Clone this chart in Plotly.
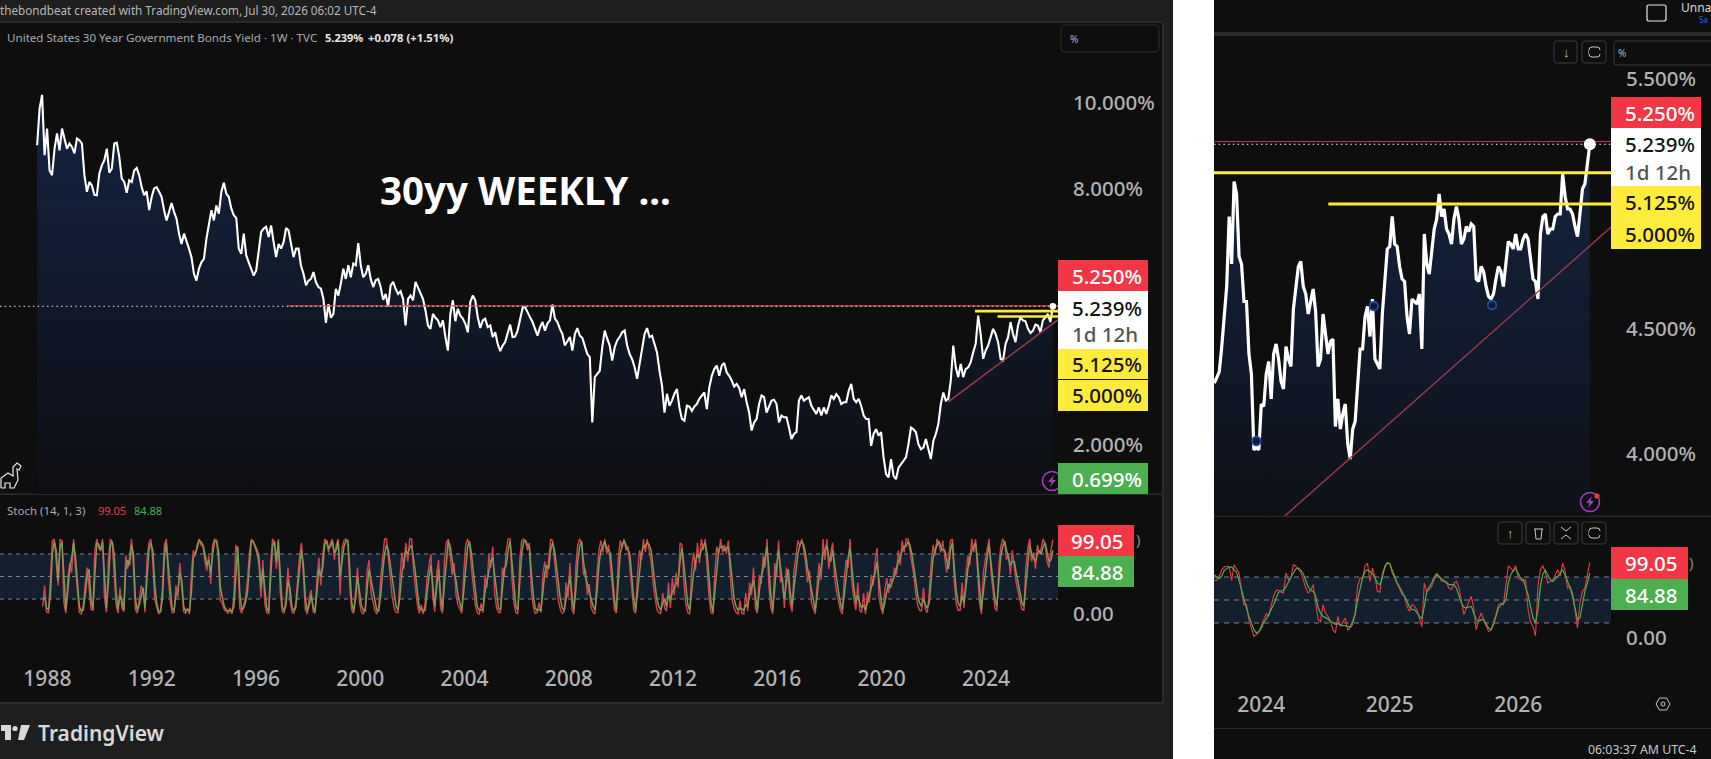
import pandas as pd
import plotly.graph_objects as go

# ---------- data ----------
left_yield = [
9.01,9.87,10.19,8.78,9.40,8.42,8.31,8.93,9.29,8.89,9.40,9.17,8.93,9.05,8.97,8.82,9.17,9.13,9.05,8.31,7.92,8.15,8.07,7.85,7.84,8.35,8.54,8.66,8.93,8.37,8.46,9.05,9.07,8.74,8.23,8.15,7.90,8.19,8.15,8.42,8.48,8.31,8.03,7.84,7.93,7.49,7.80,8.00,8.03,7.92,7.80,7.49,7.25,7.45,7.66,7.45,7.29,6.94,6.70,6.94,6.78,6.59,6.39,6.00,5.84,6.12,6.27,6.35,6.82,7.21,7.49,7.25,7.60,7.41,7.92,8.13,7.88,7.80,7.53,7.37,7.31,6.59,6.47,6.94,6.43,6.27,6.10,5.96,6.08,6.59,6.98,7.06,7.10,6.86,7.13,6.74,6.39,6.70,6.59,6.74,7.07,7.02,6.74,6.39,6.59,6.59,6.19,6.00,5.73,5.84,5.88,6.04,5.80,5.69,5.65,5.41,4.85,5.29,
4.97,5.06,5.65,5.49,5.77,6.12,5.88,6.20,5.92,6.24,6.20,6.72,6.20,5.92,6.00,6.20,5.88,5.69,5.85,5.88,5.69,5.39,5.53,5.23,5.73,5.81,5.65,5.53,5.59,5.41,4.79,5.41,5.49,5.38,5.81,5.69,5.53,5.41,5.14,4.79,4.71,5.06,4.97,4.91,4.75,4.91,4.52,4.20,5.06,5.38,4.89,5.18,5.02,4.95,4.83,4.63,5.34,5.49,5.38,4.98,4.73,4.91,4.95,4.75,4.79,4.52,4.63,4.36,4.19,4.32,4.40,4.63,4.81,4.52,4.53,4.67,4.98,5.20,5.22,5.08,4.98,4.87,4.73,4.55,4.75,4.87,4.67,4.84,4.91,5.28,4.95,4.87,4.71,4.59,4.32,4.44,4.52,4.20,4.59,4.73,4.55,4.50,4.28,4.12,4.05,2.52,3.58,3.67,3.73,4.28,4.67,4.48,4.32,3.97,4.28,4.44,4.52,4.63,4.67,4.32,4.12,4.00,3.81,3.54,3.89,4.28,4.59,4.73,4.52,4.55,4.32,4.16,3.73,3.38,2.75,3.19,2.91,3.03,3.19,3.30,2.87,2.60,2.56,2.91,
2.89,2.79,2.89,2.95,3.07,3.15,3.22,2.83,3.34,3.61,3.77,3.85,3.61,3.85,3.91,3.69,3.61,3.50,3.36,3.42,3.33,3.11,3.30,2.99,2.75,2.33,2.52,2.60,2.95,3.15,3.11,2.75,2.91,3.03,3.05,2.95,2.52,2.68,2.64,2.64,2.40,2.13,2.25,2.29,3.03,3.15,3.03,3.07,3.11,2.91,2.83,2.72,2.87,2.68,2.87,2.72,2.91,3.15,3.07,3.18,3.11,2.95,2.99,2.99,3.26,3.42,3.07,2.99,3.07,2.91,2.68,2.60,2.60,1.97,2.25,2.36,2.21,2.29,1.70,1.31,1.23,1.66,1.27,1.19,1.46,1.54,1.62,1.70,2.01,2.40,2.36,2.29,2.01,1.89,1.93,2.13,1.89,1.66,2.09,2.25,2.48,2.95,3.22,3.03,3.07,3.50,4.32,3.81,3.58,3.89,3.58,3.77,3.81,3.93,4.16,4.36,5.02,4.59,4.01,4.20,4.32,4.51,4.71,4.59,4.40,4.01,3.97,4.36,4.51,4.87,4.59,4.40,4.79,4.98,4.91,4.89,4.71,4.61,4.67,4.81,4.79,4.63,4.91,4.98,5.06,4.87,5.239]

right_yield = [
4.283,4.303,4.33,4.43,4.54,4.67,4.95,4.76,5.09,5.04,4.79,4.76,4.61,4.61,4.40,4.32,4.016,4.03,4.016,4.20,4.19,4.32,4.37,4.22,4.40,4.44,4.38,4.29,4.26,4.43,4.38,4.35,4.58,4.67,4.75,4.77,4.67,4.64,4.56,4.61,4.66,4.57,4.35,4.38,4.56,4.48,4.40,4.45,4.46,4.11,4.22,4.10,4.16,4.20,4.04,3.98,4.10,4.13,4.26,4.42,4.42,4.55,4.59,4.47,4.62,4.38,4.36,4.34,4.56,4.71,4.82,4.83,4.95,4.84,4.83,4.75,4.70,4.69,4.55,4.48,4.62,4.61,4.60,4.64,4.42,4.88,4.76,4.72,4.82,4.90,4.94,5.04,4.95,4.98,4.90,4.88,4.84,4.94,4.99,4.94,4.84,4.86,4.91,4.89,4.92,4.91,4.70,4.69,4.75,4.73,4.67,4.63,4.62,4.64,4.70,4.75,4.73,4.67,4.76,4.85,4.84,4.82,4.88,4.82,4.82,4.86,4.88,4.86,4.78,4.70,4.69,4.62,4.88,4.95,4.96,4.88,4.90,4.90,4.95,4.96,4.96,5.12,5.03,4.98,4.98,4.96,4.91,4.87,4.96,5.06,5.08,5.15,5.239]

left_k = [
10,38,3,1,45,98,100,70,38,99,98,15,1,48,68,55,100,60,30,2,0,12,40,62,35,6,5,85,100,88,84,100,22,2,70,100,96,60,12,1,35,8,3,78,60,75,100,62,6,1,20,38,30,2,72,95,100,70,20,8,0,3,35,92,100,48,18,2,2,38,22,68,30,3,1,8,0,55,85,78,92,100,92,90,70,58,78,40,92,100,97,72,18,14,6,3,1,8,0,25,92,82,8,1,12,22,45,80,100,96,88,80,65,22,72,14,2,0,68,100,96,60,100,30,3,1,25,62,20,3,1,14,45,78,95,45,6,0,22,32,3,1,48,75,38,78,100,97,82,95,100,72,92,100,25,88,98,100,96,35,5,1,38,62,
15,3,0,8,58,72,28,16,5,0,10,48,75,100,100,70,48,22,8,2,2,50,82,60,95,70,100,100,58,35,12,1,12,0,14,48,62,80,22,3,55,72,8,1,72,95,100,78,52,68,25,12,6,1,55,92,100,92,60,35,12,2,0,14,2,52,35,80,62,90,28,8,2,2,62,50,85,100,100,45,14,2,0,72,98,100,96,85,95,30,10,1,2,15,2,55,70,48,80,100,98,72,45,18,6,1,3,42,22,68,6,0,62,92,100,94,52,60,25,40,8,2,0,55,85,98,82,100,80,92,62,28,6,1,75,98,88,100,85,90,62,28,5,1,55,85,72,100,82,100,85,70,42,22,6,2,0,28,8,4,42,8,48,25,55,35,95,92,42,12,2,0,60,82,58,95,68,100,85,100,62,22,2,0,55,90,80,100,82,92,80,98,50,18,8,2,0,18,1,0,28,4,42,25,62,8,1,52,40,78,62,100,35,8,0,68,50,98,42,48,8,62,48,14,3,58,78,98,90,100,85,68,42,58,15,6,0,42,68,45,100,72,100,60,82,95,48,30,18,5,0,48,72,62,100,40,20,5,42,5,2,28,0,30,15,52,38,70,88,22,8,0,32,48,28,48,42,62,52,85,65,98,82,100,100,85,68,52,28,12,5,4,35,6,2,28,68,92,78,100,94,82,98,78,55,75,98,100,42,14,5,5,42,8,52,78,65,100,82,100,50,15,0,55,72,85,100,55,28,8,4,62,90,100,96,72,80,52,85,60,42,30,18,6,5,62,88,100,70,82,60,92,80,88,100,92,70,62,85,99.05]

left_d = [
20,22,8,6,25,80,97,85,45,90,96,40,5,30,60,75,95,75,45,10,4,5,25,50,60,20,6,50,95,93,85,96,50,8,40,90,97,80,30,6,25,18,5,60,72,65,92,80,20,5,12,25,35,8,50,85,95,85,40,15,4,3,20,75,95,65,30,8,4,25,30,55,45,10,4,6,3,30,75,80,88,98,96,92,80,65,72,55,80,96,98,85,35,20,10,6,4,5,3,10,55,90,30,6,8,15,28,60,97,97,90,85,75,35,60,28,8,3,40,90,97,70,97,55,10,4,12,45,35,10,4,8,30,60,85,65,20,4,12,25,10,3,30,60,50,62,92,98,88,90,97,82,85,97,50,72,90,97,98,60,15,4,20,50,
30,12,5,4,35,60,45,30,15,5,4,25,55,80,92,85,65,45,25,10,5,25,55,70,85,80,88,92,75,55,30,8,6,4,5,30,50,65,40,10,35,60,25,5,40,75,97,90,70,55,45,25,15,5,30,65,90,97,80,55,30,10,5,5,6,30,45,60,70,75,50,25,8,5,35,60,65,85,97,70,35,10,5,40,80,96,98,92,88,55,25,8,5,6,5,30,55,65,60,85,95,85,65,40,20,8,5,20,35,50,25,5,30,70,90,97,70,50,40,30,20,10,5,30,65,85,90,97,88,85,80,50,20,5,40,80,92,98,92,85,80,50,20,5,30,60,80,90,90,96,92,85,60,40,20,10,5,15,20,10,25,18,30,35,40,45,70,88,65,35,12,5,30,55,70,80,75,85,90,95,80,45,15,3,30,65,85,90,90,85,88,90,70,40,20,10,5,8,6,5,12,10,25,35,45,25,5,30,50,60,75,90,60,25,5,40,65,85,65,40,20,40,60,30,10,35,60,80,92,97,92,80,60,45,30,15,5,25,50,60,80,85,92,75,70,85,65,45,30,15,5,25,55,75,88,60,35,15,25,15,8,12,5,15,25,35,45,55,70,40,20,5,15,30,40,35,45,50,60,70,75,85,90,90,97,92,80,65,45,25,15,10,20,12,8,15,45,75,85,92,97,90,85,85,70,60,85,95,60,30,15,10,25,15,35,60,75,85,90,95,70,35,5,30,55,75,92,70,45,20,10,40,75,90,97,85,75,65,70,70,55,40,30,15,10,40,70,92,80,75,70,80,85,80,90,95,80,70,72,84.88]

right_k = [
75.6,75.6,80.9,89.6,93,94,93,75.6,96,89.6,85,61,44,44,24,13,2.6,4.8,8,16.5,23.5,32,28.6,41.7,55.6,62.6,62.6,60,59,85,76.5,78.7,96,94,90.4,86,76.5,65.6,59,62.6,70,50,24.3,22,44,33,28.6,22,11.3,7,28.6,15.6,22,26.5,10.4,13.5,17.8,33,68,78.7,78.7,94,98,74.3,91.7,80.9,61.3,60,85,91.7,99,97.4,85,78.7,72,63.5,57,55.6,41.7,35,44,41.7,37.4,26.5,14.8,72,61.3,63.5,67.8,76.5,83,80.9,74.3,75.6,72,65.6,63.5,72,74.3,67,50,30.9,39.5,48,54.8,39.5,11.3,24.3,33,24.3,15.6,9.1,11.3,20,30.9,44,46,44,72,94,91.7,87.4,94.8,78.7,76.5,74.3,76.5,37.4,20.9,15.6,3.5,68,89.6,94.8,85,72.1,74.3,75.6,83,89.6,80.9,98,87.4,65.6,67.8,59,37.4,13.5,46,61.3,65.6,85,99.05]

right_d = [
83,79.6,78,80.9,88.7,91.3,93,93,89.6,86,75.6,62.6,50.4,39.5,28.6,19,11.3,7,8.7,13,20.9,25.2,30.9,37.4,43.9,52.6,60,61.7,62.6,67,74.3,80,85.2,90.4,91.7,88.7,84.3,74.3,67,62.6,61.3,54.8,40.9,32.2,28.7,27,25.2,22.2,20,18.3,19.1,17.8,16.5,16.5,15.2,14.8,22.2,30.9,50.4,63.5,78.7,87.4,89.6,87.4,84.3,78.7,72.2,70,78.7,93.9,98.3,97.4,89.6,80.9,72.2,67,61.3,55.6,48.3,40.9,37.4,37.4,33,28.7,25.2,41.7,61.3,67,72.2,80,84.3,80.9,77.4,74.3,73,70,70,70,65.6,57,46,40.9,39.5,40.9,41.7,33,24.3,22.2,24.3,24.3,19.1,13.5,11.3,17.8,28.7,39.5,43.9,45.2,50.4,72.2,83,88.7,90.4,84.3,78.7,76.5,67.8,57,41.7,26.5,20,37.4,67.8,84.3,88.7,83,76.5,74.3,77.4,81.7,84.3,89.6,83,74.3,65.6,54.8,39.5,24.3,26.5,43.9,61.3,72.2,84.88]

first_price_date = "1987-08-10"
first_stoch_date = "1987-10-27"
last_date = "2026-07-27"
left_ticks = [1988, 1992, 1996, 2000, 2004, 2008, 2012, 2016, 2020, 2024]
right_ticks = [2024, 2025, 2026]
right_tick_dates = ["2024-01-08", "2025-01-06", "2026-01-05"]
resistance_red = 5.25
levels_yellow = [5.125, 5.0]
left_yellow_starts = ["2023-08-01", "2024-06-12"]
right_yellow_starts = ["2023-01-01", "2024-07-16"]
red_line_start = "1997-03-10"
trend_dates = ["2022-07-22", "2026-10-05"]
trend_values = [3.0, 4.92]
pivot_dates = ["2023-12-25", "2024-11-22", "2025-10-23"]
pivot_values = [4.052, 4.592, 4.596]
left_price_ticks = [10, 8, 2]
right_price_ticks = [5.5, 4.5, 4.0]
stoch_levels = [80, 50, 20]

# ---------- helpers ----------
W, H = 1711, 759
def px(x): return x / W
def py(y): return 1 - y / H
def dom_x(a, b): return [a / W, b / W]
def dom_y(top, bottom): return [1 - bottom / H, 1 - top / H]

shapes, notes = [], []
def rect(x0, y0, x1, y1, fill="rgba(0,0,0,0)", line=None, layer="below", lw=1):
    shapes.append(dict(type="rect", xref="paper", yref="paper", x0=px(x0), x1=px(x1), y0=py(y1), y1=py(y0),
                       fillcolor=fill, line=dict(color=line or "rgba(0,0,0,0)", width=lw if line else 0), layer=layer))
def rrect(x0, y0, x1, y1, r, line, fill="rgba(0,0,0,0)", layer="above", lw=1):
    p = (f"M{px(x0+r)},{py(y0)} L{px(x1-r)},{py(y0)} Q{px(x1)},{py(y0)} {px(x1)},{py(y0+r)} "
         f"L{px(x1)},{py(y1-r)} Q{px(x1)},{py(y1)} {px(x1-r)},{py(y1)} L{px(x0+r)},{py(y1)} "
         f"Q{px(x0)},{py(y1)} {px(x0)},{py(y1-r)} L{px(x0)},{py(y0+r)} Q{px(x0)},{py(y0)} {px(x0+r)},{py(y0)} Z")
    shapes.append(dict(type="path", xref="paper", yref="paper", path=p, line=dict(color=line, width=lw), fillcolor=fill, layer=layer))
def poly(pts, line="rgba(0,0,0,0)", fill="rgba(0,0,0,0)", lw=1, close=False, layer="above"):
    p = "M" + " L".join(f"{px(a)},{py(b)}" for a, b in pts) + (" Z" if close else "")
    shapes.append(dict(type="path", xref="paper", yref="paper", path=p, line=dict(color=line, width=lw), fillcolor=fill, layer=layer))
def circle(cx, cy, r, line="rgba(0,0,0,0)", fill="rgba(0,0,0,0)", lw=1):
    shapes.append(dict(type="circle", xref="paper", yref="paper", x0=px(cx-r), x1=px(cx+r), y0=py(cy+r), y1=py(cy-r),
                       line=dict(color=line, width=lw), fillcolor=fill, layer="above"))
def text(x, y, s, size=11, color="#b2b5be", anchor="left", family="Noto Sans", weight=None):
    f = dict(size=size, color=color, family=family)
    if weight: f["weight"] = weight
    notes.append(dict(text=s, xref="paper", yref="paper", x=px(x), y=py(y), xanchor=anchor, yanchor="middle",
                      showarrow=False, font=f, borderpad=0, borderwidth=0))

PANEL, BAR, SEP = "#0e0e0e", "#1e1e1e", "#2a2a2a"
RED, GREEN, YEL = "#f23645", "#4caf50", "#ffeb3b"
GRAY = "#b2b2b2"
TREND = "#a33a4e"
BAND = "#131f2c"
DASH = "#83868f"

# panels
rect(0, 0, 1173, 759, BAR)
rect(0, 22, 1162, 702, PANEL)
rect(0, 21, 1162, 23, SEP)
rect(0, 493.5, 1162, 495, SEP)
rect(0, 702, 1162, 704, SEP)
rect(1162, 22, 1164, 704, SEP)
rect(1214, 0, 1711, 759, PANEL)
rect(1214, 32, 1711, 36, SEP)
rect(1214, 515.5, 1711, 517, SEP)
rect(1214, 728, 1711, 729, SEP)

# ---------- traces ----------
fig = go.Figure()
dates_l = pd.date_range(start=first_price_date, end=last_date, periods=len(left_yield))
dates_r = pd.date_range(end=last_date, periods=len(right_yield), freq="W-MON")
dates_kl = pd.date_range(start=first_stoch_date, end=last_date, periods=len(left_k))
dates_dl = pd.date_range(start=first_stoch_date, end=last_date, periods=len(left_d))
dates_kr = pd.date_range(end=last_date, periods=len(right_k), freq="W-MON")
dates_dr = pd.date_range(end=last_date, periods=len(right_d), freq="W-MON")

LX0, LX1 = "1986-03-08", "2026-10-07"
RX0, RX1 = "2023-08-27", "2026-09-25"

def line(x, y, xa, ya, color, width, dash=None, mode="lines"):
    fig.add_trace(go.Scatter(x=x, y=y, xaxis=xa, yaxis=ya, mode=mode, hoverinfo="skip", showlegend=False,
                             line=dict(color=color, width=width, dash=dash)))

# left price
fig.add_trace(go.Scatter(x=dates_l, y=left_yield, xaxis="x", yaxis="y", mode="lines", hoverinfo="skip", showlegend=False,
                         line=dict(color="#ffffff", width=2.1), fill="tozeroy",
                         fillgradient=dict(type="vertical", start=0.8, stop=10.2,
                                           colorscale=[[0, "#0e0f13"], [0.55, "#111a2c"], [1, "#142345"]])))
line([red_line_start, LX1], [resistance_red]*2, "x", "y", "#d9404f", 1.2)
line([LX0, LX1], [left_yield[-1]]*2, "x", "y", "#e8e8e8", 1, dash="1.5px,3.2px")
for s, v in zip(left_yellow_starts, levels_yellow):
    line([s, LX1], [v, v], "x", "y", YEL, 2.6)
line(trend_dates, trend_values, "x", "y", TREND, 1.4)
fig.add_trace(go.Scatter(x=[dates_l[-1]], y=[left_yield[-1]], xaxis="x", yaxis="y", mode="markers", hoverinfo="skip", showlegend=False,
                         marker=dict(color="#ffffff", size=6.5)))

# left stoch
for v in stoch_levels:
    line([LX0, LX1], [v, v], "x2", "y2", DASH, 1, dash="4px,4px")
line(dates_kl, left_k, "x2", "y2", "#d9404f", 1.4)
line(dates_dl, left_d, "x2", "y2", "#7f9a55", 1.5)

# right price
fig.add_trace(go.Scatter(x=dates_r, y=right_yield, xaxis="x3", yaxis="y3", mode="lines", hoverinfo="skip", showlegend=False,
                         line=dict(color="#ffffff", width=3.2), fill="tozeroy",
                         fillgradient=dict(type="vertical", start=3.75, stop=5.2,
                                           colorscale=[[0, "#0f1117"], [0.5, "#111a2c"], [1, "#14233f"]])))
line([RX0, RX1], [resistance_red]*2, "x3", "y3", "#c23345", 1.2)
line([RX0, RX1], [right_yield[-1]]*2, "x3", "y3", "#ffffff", 1, dash="1.5px,3.2px")
for s, v in zip(right_yellow_starts, levels_yellow):
    line([s, RX1], [v, v], "x3", "y3", YEL, 3)
line(trend_dates, trend_values, "x3", "y3", TREND, 1.4)
fig.add_trace(go.Scatter(x=pivot_dates, y=pivot_values, xaxis="x3", yaxis="y3", mode="markers", hoverinfo="skip", showlegend=False,
                         marker=dict(color="#0e1830", size=8.5, line=dict(color="#1f4aa8", width=1.8))))
fig.add_trace(go.Scatter(x=[dates_r[-1]], y=[right_yield[-1]], xaxis="x3", yaxis="y3", mode="markers", hoverinfo="skip", showlegend=False,
                         marker=dict(color="#ffffff", size=12)))

# right stoch
for v in stoch_levels:
    line([RX0, RX1], [v, v], "x4", "y4", DASH, 1, dash="5px,5px")
line(dates_kr, right_k, "x4", "y4", RED, 1.1)
line(dates_dr, right_d, "x4", "y4", GREEN, 1.2)

# stoch bands
for xr, yr, x0, x1 in (("x2", "y2", LX0, LX1), ("x4", "y4", RX0, RX1)):
    shapes.append(dict(type="rect", xref=xr, yref=yr, x0=x0, x1=x1, y0=stoch_levels[2], y1=stoch_levels[0],
                       fillcolor=BAND, line=dict(width=0), layer="below"))

# ---------- price boxes ----------
def box(x0, x1, y0, y1, fill, s, color, tx, size=20.5):
    rect(x0, y0, x1, y1, fill, layer="above")
    if s:
        text(tx, (y0+y1)/2, s, size=size, color=color, weight=500)

box(1058, 1148, 260, 291, RED, "5.250%", "#ffffff", 1072)
rect(1058, 291, 1148, 349, "#ffffff", layer="above")
text(1072, 308, "5.239%", 20.5, "#131313", weight=500)
text(1072, 334, "1d 12h", 20.5, "#555555", weight=500)
box(1058, 1148, 349, 379, YEL, "5.125%", "#131313", 1072)
rect(1058, 379, 1148, 380, "#131313", layer="above")
box(1058, 1148, 380, 411, YEL, "5.000%", "#131313", 1072)
text(1136, 539, ")", 15, "#888888")
box(1058, 1134, 525, 556, RED, "99.05", "#ffffff", 1071)
box(1058, 1134, 556, 587, GREEN, "84.88", "#ffffff", 1071)

box(1611, 1701, 97, 128, RED, "5.250%", "#ffffff", 1625)
rect(1611, 128, 1701, 186, "#ffffff", layer="above")
text(1625, 144, "5.239%", 20.5, "#131313", weight=500)
text(1625, 172, "1d 12h", 20.5, "#555555", weight=500)
box(1611, 1701, 186, 218, YEL, "5.125%", "#131313", 1625)
box(1611, 1701, 218, 249, YEL, "5.000%", "#131313", 1625)
text(1689, 562, ")", 15, "#888888")
box(1611, 1688, 547, 579, RED, "99.05", "#ffffff", 1625)
box(1611, 1688, 579, 610, GREEN, "84.88", "#ffffff", 1625)

# ---------- header text ----------
text(0, 10, "thebondbeat created with TradingView.com, Jul 30, 2026 06:02 UTC-4", 11.7, "#b8b8b8")
text(7, 37, "United States 30 Year Government Bonds Yield · 1W · TVC", 11.6, "#a8abb4")
text(325, 37, "5.239%", 11, "#e8e8e8", weight=700)
text(368, 37, "+0.078 (+1.51%)", 11.3, "#e8e8e8", weight=700)
text(380, 190, "30yy WEEKLY ...", 38.5, "#ffffff", weight=700)
text(7, 510, "Stoch (14, 1, 3)", 11.5, "#a8abb4")
text(98, 510, "99.05", 11, RED)
text(134, 510, "84.88", 11, GREEN)
rrect(1061, 25, 1159, 52, 4, "#2e2e2e")
text(1070, 39, "%", 10, "#b2b5be")

text(38, 733, "TradingView", 21, "#d8d8d8", weight=600)
poly([(1, 725), (11, 725), (11, 740), (5, 740), (5, 731), (1, 731)], fill="#d8d8d8", close=True)
circle(15, 728.5, 2.6, fill="#d8d8d8")
poly([(21, 725), (30, 725), (24, 740), (18, 740)], fill="#d8d8d8", close=True)

# dino
poly([(1, 488), (1, 478), (8, 473), (13, 476), (13, 467), (17, 463), (21, 466), (19, 470), (17, 469), (18, 480),
      (14, 488), (10, 488), (10, 483), (5, 483), (5, 488), (1, 488)], line="#e8e8e8", lw=1.2)

# lightning badge
def bolt(cx, cy):
    poly([(cx+2, cy-6), (cx-4, cy+1), (cx-0.5, cy+1), (cx-2, cy+6), (cx+4, cy-1), (cx+0.5, cy-1)], fill="#a23cc2", close=True)
circle(1052, 481, 9.5, line="#a23cc2", lw=1.6)
bolt(1052, 481)
rect(1058, 463, 1148, 494, GREEN, layer="above")
text(1072, 479, "0.699%", 20.5, "#ffffff", weight=500)
circle(1590, 502, 9.5, line="#a23cc2", lw=1.6)
bolt(1590, 502)
circle(1597, 496, 2.6, fill=RED)

# right top
rrect(1647, 5, 1666, 21, 2, "#e8e8e8", lw=1.2)
text(1681, 7, "Unna", 12, "#d8d8d8")
text(1699, 20, "Sa", 8, "#2962ff")
for a, b in ((1554, 1577), (1582, 1606)):
    rrect(a, 41, b, 63, 3, "#3a3a3a")
rrect(1614, 41, 1716, 65, 3, "#3a3a3a")
text(1618, 53, "%", 10, "#b2b5be")
text(1566, 52, "↓", 13, "#c8c8c8", anchor="center")
rrect(1589, 47, 1600, 57, 3, "#c8c8c8")
rect(1589, 50, 1601, 54, PANEL, layer="above")

for a, b in ((1498, 1522), (1526, 1550), (1554, 1578), (1582, 1606)):
    rrect(a, 522, b, 544, 3, "#3a3a3a")
text(1510, 533, "↑", 13, "#c8c8c8", anchor="center")
poly([(1534, 529), (1543, 529)], line="#c8c8c8")
poly([(1535, 529), (1536, 539), (1541, 539), (1542, 529)], line="#c8c8c8")
poly([(1561, 527), (1566, 531), (1571, 527)], line="#c8c8c8")
poly([(1561, 539), (1566, 535), (1571, 539)], line="#c8c8c8")
rrect(1589, 528, 1600, 538, 3, "#c8c8c8")
rect(1589, 531, 1601, 535, PANEL, layer="above")

# hexagon settings
poly([(1656, 704), (1659.5, 698), (1666.5, 698), (1670, 704), (1666.5, 710), (1659.5, 710)], line="#c8c8c8", close=True)
circle(1663, 704, 2, line="#c8c8c8")
text(1588, 749, "06:03:37 AM UTC-4", 12.3, "#c8c8c8")

# ---------- layout ----------
def xaxis(domain, rng, anchor, tickvals=None, ticktext=None, standoff=12):
    d = dict(domain=domain, range=rng, anchor=anchor, type="date", showgrid=False, zeroline=False, showline=False,
             ticks="", showticklabels=tickvals is not None)
    if tickvals is not None:
        d.update(tickmode="array", tickvals=tickvals, ticktext=ticktext, ticklabelstandoff=standoff,
                 tickfont=dict(family="Noto Sans", size=21, color=GRAY, weight=500))
    return d

def yaxis(domain, rng, anchor, tickvals, ticktext, standoff=14):
    return dict(domain=domain, range=rng, anchor=anchor, side="right", showgrid=False, zeroline=False, showline=False,
                ticks="", tickmode="array", tickvals=tickvals, ticktext=ticktext, ticklabelstandoff=standoff,
                tickfont=dict(family="Noto Sans", size=20.5, color=GRAY, weight=500))

LEFT, RIGHT = dom_x(0, 1058), dom_x(1214, 1611)
fig.update_layout(
    width=W, height=H, autosize=False, margin=dict(l=0, r=0, t=0, b=0),
    paper_bgcolor="#ffffff", plot_bgcolor="rgba(0,0,0,0)", showlegend=False,
    xaxis=xaxis(LEFT, [LX0, LX1], "y"),
    yaxis=yaxis(dom_y(22, 494), [0.843, 11.897], "x", left_price_ticks, [f"{v:.3f}%" for v in left_price_ticks]),
    xaxis2=xaxis(LEFT, [LX0, LX1], "y2", [f"{y}-01-01" for y in left_ticks], [str(y) for y in left_ticks], 12),
    yaxis2=yaxis(dom_y(494, 652), [-50.67, 160], "x2", [0], ["0.00"]),
    xaxis3=xaxis(RIGHT, [RX0, RX1], "y3"),
    yaxis3=yaxis(dom_y(36, 516), [3.752, 5.672], "x3", right_price_ticks, [f"{v:.3f}%" for v in right_price_ticks]),
    xaxis4=xaxis(RIGHT, [RX0, RX1], "y4", right_tick_dates, [str(y) for y in right_ticks], 10),
    yaxis4=yaxis(dom_y(516, 680), [-54.4, 159.6], "x4", [0], ["0.00"]),
    shapes=shapes, annotations=notes,
)
fig.write_html("out.html", config={"displayModeBar": False},
               post_script="document.body.style.margin='0';document.body.style.overflow='hidden';")
